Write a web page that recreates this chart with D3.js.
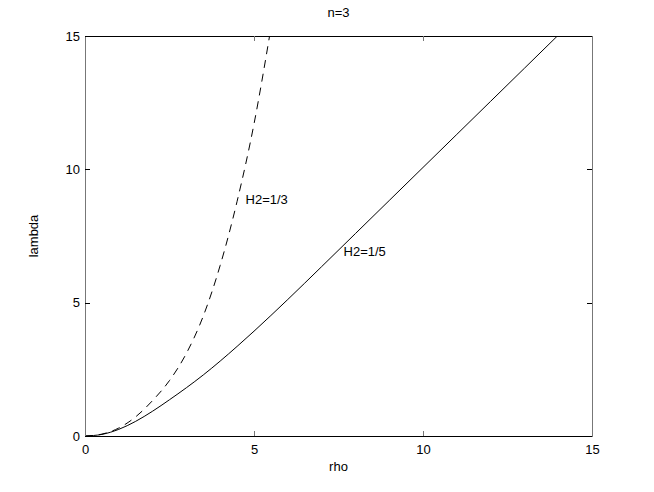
<!DOCTYPE html>
<html>
<head>
<meta charset="utf-8">
<script src="https://cdn.jsdelivr.net/npm/d3@7"></script>
<style>
  body { margin: 0; background: #fff; }
  text { font-family: "Liberation Sans", Arial, Helvetica, sans-serif; font-size: 13px; fill: #000; }
</style>
</head>
<body>
<div id="chart"></div>
<script>
// rho samples and lambda values
const rhoH5 = [0, 0.5, 1, 1.5, 2, 2.5, 3, 3.5, 4, 4.5, 5, 6, 7, 8, 9, 10, 11, 12, 13, 14];
const lamH5 = [0, 0.06, 0.25, 0.55, 0.93, 1.36, 1.81, 2.29, 2.81, 3.36, 3.93, 5.12, 6.35, 7.59, 8.83, 10.07, 11.31, 12.55, 13.79, 15.03];

const rhoH3 = [0, 0.5, 1, 1.5, 2, 2.5, 3, 3.5, 4, 4.5, 5, 5.5];
const lamH3 = [0, 0.07, 0.3, 0.72, 1.33, 2.08, 3.1, 4.5, 6.4, 8.8, 11.7, 15.3];

const xTicks = [0, 5, 10, 15];
const yTicks = [0, 5, 10, 15];

const W = 654, H = 492;
const margin = { left: 85, top: 36, right: 62, bottom: 56 };
const iw = W - margin.left - margin.right;
const ih = H - margin.top - margin.bottom;

const svg = d3.select("#chart").append("svg")
  .attr("width", W)
  .attr("height", H);

const x = d3.scaleLinear().domain([0, 15]).range([0, iw]);
const y = d3.scaleLinear().domain([0, 15]).range([ih, 0]);

const g = svg.append("g").attr("transform", `translate(${margin.left},${margin.top})`);

g.append("clipPath").attr("id", "clip")
  .append("rect").attr("width", iw).attr("height", ih);

// curves
const line = d3.line()
  .x((d) => x(d[0]))
  .y((d) => y(d[1]))
  .curve(d3.curveMonotoneX);

g.append("path")
  .datum(rhoH3.map((r, i) => [r, lamH3[i]]))
  .attr("clip-path", "url(#clip)")
  .attr("fill", "none")
  .attr("stroke", "#000")
  .attr("stroke-width", 1)
  .attr("stroke-dasharray", "8,6")
  .attr("d", line);

g.append("path")
  .datum(rhoH5.map((r, i) => [r, lamH5[i]]))
  .attr("clip-path", "url(#clip)")
  .attr("fill", "none")
  .attr("stroke", "#000")
  .attr("stroke-width", 1)
  .attr("d", line);

// box (matlab style, ticks inside on all sides)
const tickLen = 5;
g.append("line").attr("x1", 0).attr("x2", iw).attr("y1", 0.5).attr("y2", 0.5)
  .attr("stroke", "#000");
g.append("line").attr("x1", 0).attr("x2", iw).attr("y1", ih + 0.5).attr("y2", ih + 0.5)
  .attr("stroke", "#000");
g.append("line").attr("x1", 0.5).attr("x2", 0.5).attr("y1", 0).attr("y2", ih + 1)
  .attr("stroke", "#777");
g.append("line").attr("x1", iw + 0.5).attr("x2", iw + 0.5).attr("y1", 0).attr("y2", ih + 1)
  .attr("stroke", "#777");

const xAxis = d3.axisBottom(x).tickValues(xTicks).tickSize(0).tickPadding(9);
const xg = g.append("g").attr("transform", `translate(0,${ih})`).call(xAxis);
xg.select(".domain").remove();
xg.selectAll("text").attr("font-size", 13).attr("font-family", null);

const yAxis = d3.axisLeft(y).tickValues(yTicks).tickSize(0).tickPadding(5);
const yg = g.append("g").call(yAxis);
yg.select(".domain").remove();
yg.selectAll("text").attr("font-size", 13).attr("font-family", null);

// inner ticks
xTicks.forEach((t) => {
  g.append("line").attr("x1", Math.round(x(t)) + 0.5).attr("x2", Math.round(x(t)) + 0.5)
    .attr("y1", ih).attr("y2", ih - tickLen).attr("stroke", "#777");
  g.append("line").attr("x1", Math.round(x(t)) + 0.5).attr("x2", Math.round(x(t)) + 0.5)
    .attr("y1", 0).attr("y2", tickLen).attr("stroke", "#777");
});
yTicks.forEach((t) => {
  g.append("line").attr("x1", 0).attr("x2", tickLen)
    .attr("y1", Math.round(y(t)) + 0.5).attr("y2", Math.round(y(t)) + 0.5).attr("stroke", "#000");
  g.append("line").attr("x1", iw).attr("x2", iw - tickLen)
    .attr("y1", Math.round(y(t)) + 0.5).attr("y2", Math.round(y(t)) + 0.5).attr("stroke", "#000");
});

// labels
svg.append("text").attr("x", margin.left + iw / 2).attr("y", 17)
  .attr("text-anchor", "middle").text("n=3");
svg.append("text").attr("x", margin.left + iw / 2).attr("y", 471)
  .attr("text-anchor", "middle").text("rho");
svg.append("text")
  .attr("transform", `translate(38,${margin.top + ih / 2}) rotate(-90)`)
  .attr("text-anchor", "middle").text("lambda");

// curve annotations
g.append("text").attr("x", x(4.75)).attr("y", y(8.7)).text("H2=1/3");
g.append("text").attr("x", x(7.65)).attr("y", y(6.74)).text("H2=1/5");
</script>
</body>
</html>
